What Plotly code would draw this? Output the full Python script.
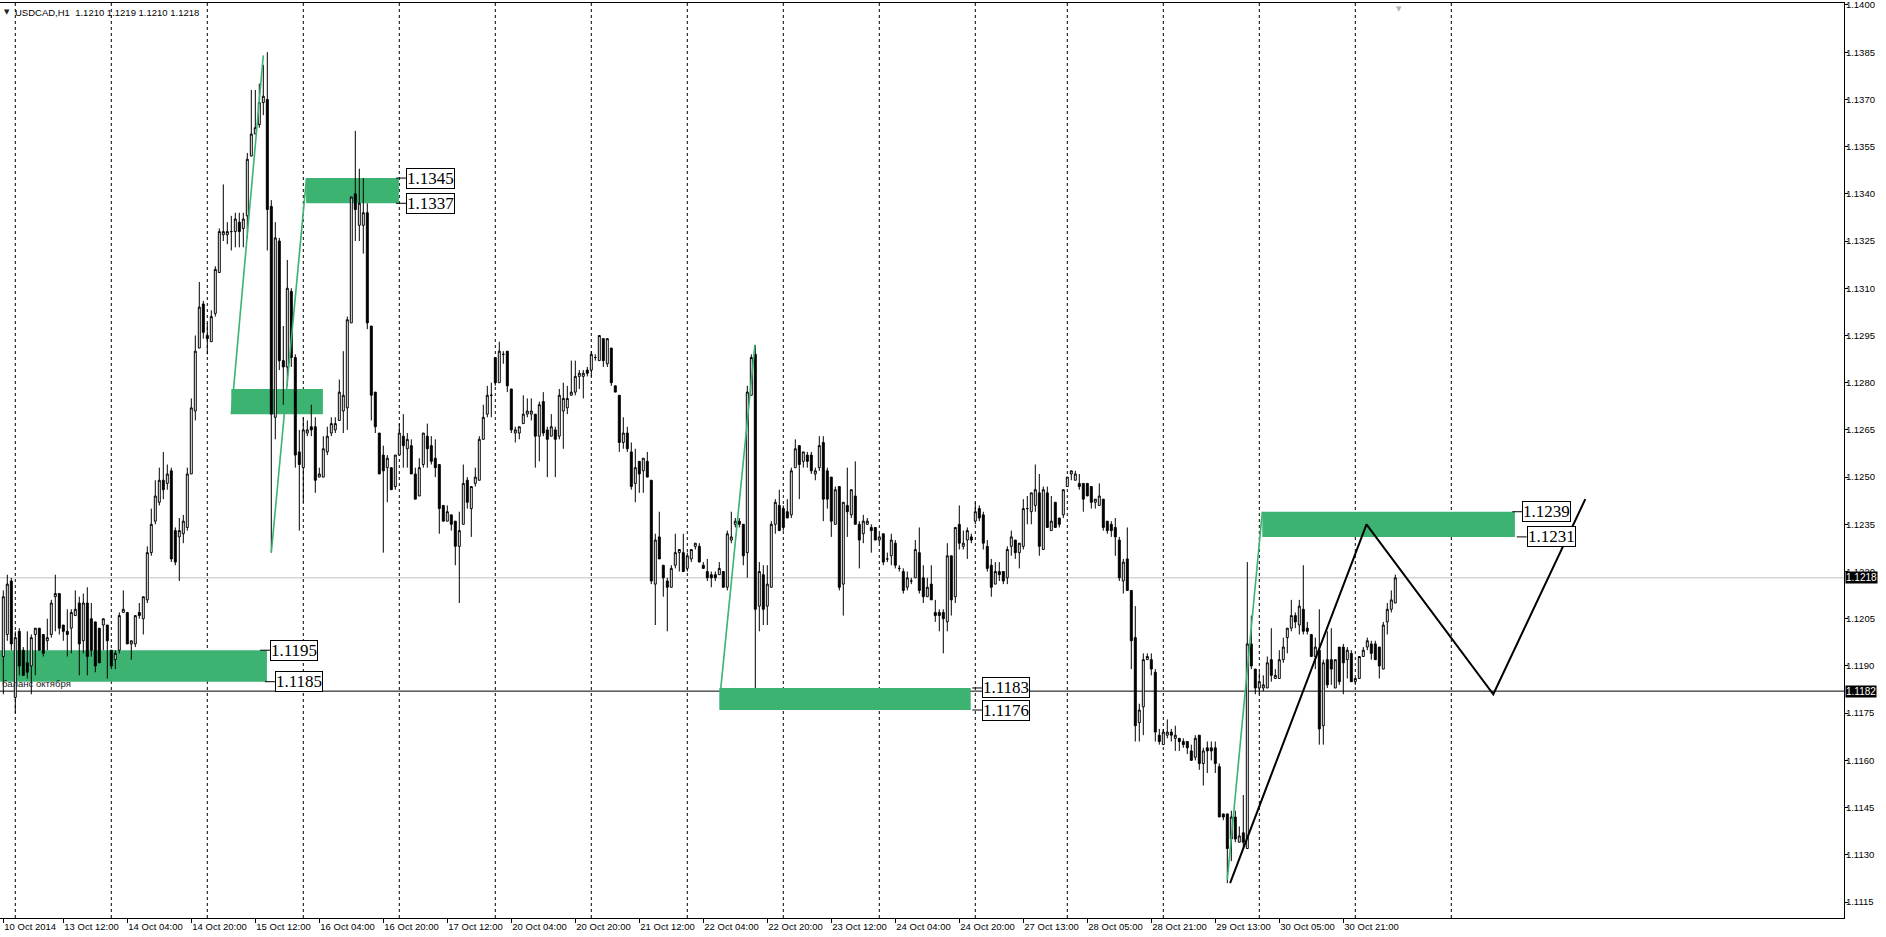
import plotly.graph_objects as go

# ---------------- OHLC data (H1 bars, index 0 = 10 Oct 21:00) ----------------
opens = [
 1.1193,1.1200,1.1217,1.1180,1.1201,1.1195,1.1191,1.1190,1.1200,1.1202,
 1.1200,1.1198,1.1200,1.1212,1.1213,1.1203,1.1201,1.1202,1.1206,1.1210,
 1.1198,1.1210,1.1205,1.1204,1.1202,1.1203,1.1203,1.1195,1.1192,1.1195,
 1.1207,1.1207,1.1197,1.1197,1.1207,1.1205,1.1211,1.1226,1.1236,1.1242,
 1.1249,1.1248,1.1252,1.1233,1.1231,1.1232,1.1234,1.1251,1.1271,1.1291,
 1.1305,1.1295,1.1293,1.1302,1.1315,1.1327,1.1327,1.1328,1.1328,1.1331,
 1.1329,1.1333,1.1352,1.1359,1.1362,1.1369,1.1370,1.1336,1.1269,1.1325,
 1.1287,1.1285,1.1309,1.1288,1.1258,1.1253,1.1264,1.1266,1.1266,1.1250,
 1.1250,1.1258,1.1264,1.1265,1.1268,1.1271,1.1272,1.1299,1.1340,1.1330,
 1.1330,1.1334,1.1298,1.1277,1.1264,1.1257,1.1253,1.1253,1.1247,1.1257,
 1.1263,1.1259,1.1260,1.1251,1.1244,1.1254,1.1263,1.1260,1.1256,1.1254,
 1.1241,1.1236,1.1238,1.1236,1.1228,1.1235,1.1249,1.1240,1.1248,1.1249,
 1.1262,1.1270,1.1276,1.1288,1.1280,1.1289,1.1290,1.1278,1.1264,1.1264,
 1.1267,1.1270,1.1270,1.1270,1.1263,1.1274,1.1265,1.1263,1.1265,1.1263,
 1.1271,1.1272,1.1276,1.1277,1.1282,1.1282,1.1284,1.1284,1.1288,1.1287,
 1.1294,1.1286,1.1291,1.1279,1.1276,1.1261,1.1264,1.1258,1.1248,1.1255,
 1.1252,1.1255,1.1249,1.1216,1.1231,1.1222,1.1217,1.1215,1.1222,1.1226,
 1.1226,1.1221,1.1224,1.1228,1.1228,1.1222,1.1220,1.1219,1.1219,1.1219,
 1.1220,1.1215,1.1230,1.1235,1.1236,1.1235,1.1226,1.1276,1.1289,1.1209,
 1.1219,1.1209,1.1215,1.1235,1.1241,1.1240,1.1239,1.1238,1.1253,1.1260,
 1.1255,1.1257,1.1257,1.1251,1.1253,1.1261,1.1252,1.1250,1.1235,1.1247,
 1.1216,1.1241,1.1238,1.1244,1.1235,1.1232,1.1235,1.1234,1.1234,1.1230,
 1.1232,1.1224,1.1225,1.1229,1.1221,1.1220,1.1215,1.1217,1.1218,1.1226,
 1.1218,1.1212,1.1216,1.1207,1.1207,1.1207,1.1204,1.1225,1.1212,1.1235,
 1.1228,1.1230,1.1231,1.1236,1.1240,1.1238,1.1228,1.1222,1.1216,1.1220,
 1.1220,1.1218,1.1228,1.1230,1.1226,1.1228,1.1240,1.1239,1.1241,1.1245,
 1.1227,1.1245,1.1233,1.1242,1.1237,1.1238,1.1247,1.1251,1.1249,1.1248,
 1.1248,1.1248,1.1247,1.1242,1.1241,1.1243,1.1236,1.1235,1.1234,1.1230,
 1.1217,1.1224,1.1214,1.1199,1.1172,1.1177,1.1192,1.1192,1.1188,1.1168,
 1.1165,1.1168,1.1169,1.1167,1.1167,1.1166,1.1166,1.1163,1.1161,1.1168,
 1.1159,1.1164,1.1164,1.1164,1.1158,1.1143,1.1143,1.1135,1.1142,1.1134,
 1.1137,1.1132,1.1197,1.1189,1.1183,1.1183,1.1183,1.1192,1.1186,1.1186,
 1.1192,1.1199,1.1202,1.1206,1.1203,1.1208,1.1202,1.1200,1.1193,1.1195,
 1.1171,1.1192,1.1192,1.1183,1.1196,1.1196,1.1192,1.1194,1.1185,1.1186,
 1.1193,1.1196,1.1197,1.1197,1.1196,1.1189,1.1204,1.1208,1.1210,
]
highs = [
 1.1214,1.1219,1.1218,1.1201,1.1202,1.1196,1.1201,1.1200,1.1202,1.1202,
 1.1200,1.1205,1.1211,1.1219,1.1213,1.1203,1.1208,1.1208,1.1214,1.1212,
 1.1213,1.1215,1.1210,1.1204,1.1202,1.1205,1.1203,1.1195,1.1195,1.1207,
 1.1214,1.1207,1.1198,1.1206,1.1210,1.1212,1.1228,1.1240,1.1249,1.1253,
 1.1258,1.1254,1.1253,1.1234,1.1237,1.1238,1.1253,1.1275,1.1295,1.1312,
 1.1306,1.1299,1.1303,1.1317,1.1329,1.1343,1.1331,1.1333,1.1334,1.1334,
 1.1334,1.1353,1.1373,1.1373,1.1375,1.1381,1.1385,1.1338,1.1331,1.1326,
 1.1298,1.1319,1.1310,1.1289,1.1265,1.1269,1.1268,1.1273,1.1269,1.1253,
 1.1263,1.1266,1.1269,1.1269,1.1281,1.1290,1.1301,1.1339,1.1360,1.1348,
 1.1345,1.1337,1.1298,1.1277,1.1264,1.1260,1.1257,1.1253,1.1257,1.1267,
 1.1270,1.1264,1.1262,1.1253,1.1256,1.1264,1.1267,1.1263,1.1262,1.1254,
 1.1241,1.1241,1.1238,1.1236,1.1239,1.1254,1.1250,1.1247,1.1253,1.1263,
 1.1273,1.1279,1.1280,1.1288,1.1293,1.1290,1.1290,1.1278,1.1266,1.1266,
 1.1276,1.1275,1.1275,1.1270,1.1274,1.1277,1.1266,1.1270,1.1266,1.1278,
 1.1280,1.1279,1.1287,1.1287,1.1284,1.1284,1.1285,1.1290,1.1289,1.1295,
 1.1294,1.1294,1.1291,1.1279,1.1276,1.1269,1.1266,1.1261,1.1259,1.1255,
 1.1256,1.1258,1.1249,1.1232,1.1239,1.1222,1.1218,1.1222,1.1232,1.1227,
 1.1232,1.1226,1.1227,1.1229,1.1229,1.1223,1.1224,1.1220,1.1220,1.1223,
 1.1220,1.1233,1.1239,1.1237,1.1237,1.1235,1.1279,1.1289,1.1292,1.1223,
 1.1222,1.1222,1.1236,1.1243,1.1246,1.1241,1.1243,1.1253,1.1262,1.1260,
 1.1258,1.1258,1.1258,1.1253,1.1263,1.1263,1.1253,1.1250,1.1247,1.1247,
 1.1242,1.1253,1.1246,1.1255,1.1236,1.1238,1.1237,1.1235,1.1234,1.1232,
 1.1232,1.1226,1.1232,1.1230,1.1222,1.1221,1.1220,1.1218,1.1230,1.1234,
 1.1222,1.1218,1.1222,1.1211,1.1208,1.1208,1.1229,1.1225,1.1234,1.1241,
 1.1233,1.1234,1.1232,1.1242,1.1241,1.1239,1.1230,1.1224,1.1223,1.1223,
 1.1220,1.1228,1.1233,1.1230,1.1229,1.1243,1.1244,1.1245,1.1254,1.1251,
 1.1247,1.1247,1.1244,1.1242,1.1237,1.1246,1.1250,1.1252,1.1252,1.1251,
 1.1248,1.1248,1.1247,1.1243,1.1248,1.1243,1.1236,1.1236,1.1237,1.1231,
 1.1224,1.1234,1.1214,1.1209,1.1178,1.1194,1.1194,1.1194,1.1189,1.1170,
 1.1170,1.1173,1.1170,1.1171,1.1167,1.1167,1.1166,1.1165,1.1168,1.1168,
 1.1164,1.1166,1.1166,1.1166,1.1159,1.1143,1.1143,1.1144,1.1144,1.1139,
 1.1149,1.1223,1.1206,1.1189,1.1188,1.1187,1.1193,1.1202,1.1189,1.1195,
 1.1199,1.1202,1.1211,1.1207,1.1211,1.1222,1.1204,1.1200,1.1199,1.1208,
 1.1192,1.1201,1.1202,1.1192,1.1196,1.1197,1.1196,1.1195,1.1186,1.1193,
 1.1196,1.1199,1.1198,1.1198,1.1196,1.1204,1.1210,1.1214,1.1219,
]
lows = [
 1.1181,1.1198,1.1195,1.1175,1.1187,1.1187,1.1186,1.1181,1.1187,1.1195,
 1.1193,1.1195,1.1199,1.1201,1.1200,1.1198,1.1193,1.1194,1.1206,1.1187,
 1.1194,1.1187,1.1193,1.1188,1.1191,1.1195,1.1186,1.1189,1.1189,1.1194,
 1.1207,1.1197,1.1192,1.1196,1.1205,1.1200,1.1210,1.1225,1.1235,1.1241,
 1.1243,1.1246,1.1223,1.1222,1.1217,1.1229,1.1233,1.1251,1.1268,1.1291,
 1.1294,1.1289,1.1293,1.1301,1.1315,1.1325,1.1324,1.1322,1.1323,1.1323,
 1.1323,1.1326,1.1352,1.1359,1.1361,1.1365,1.1322,1.1226,1.1262,1.1284,
 1.1273,1.1279,1.1285,1.1253,1.1233,1.1242,1.1263,1.1263,1.1245,1.1250,
 1.1250,1.1257,1.1263,1.1264,1.1268,1.1264,1.1265,1.1299,1.1325,1.1325,
 1.1321,1.1297,1.1268,1.1264,1.1251,1.1226,1.1242,1.1246,1.1246,1.1257,
 1.1253,1.1253,1.1251,1.1243,1.1244,1.1253,1.1253,1.1254,1.1250,1.1232,
 1.1236,1.1236,1.1233,1.1222,1.1210,1.1235,1.1240,1.1231,1.1247,1.1249,
 1.1262,1.1269,1.1269,1.1279,1.1280,1.1286,1.1277,1.1264,1.1261,1.1262,
 1.1267,1.1269,1.1268,1.1253,1.1255,1.1263,1.1250,1.1263,1.1250,1.1262,
 1.1259,1.1270,1.1276,1.1276,1.1278,1.1275,1.1282,1.1282,1.1287,1.1287,
 1.1285,1.1285,1.1279,1.1277,1.1258,1.1259,1.1258,1.1246,1.1242,1.1245,
 1.1245,1.1250,1.1216,1.1203,1.1224,1.1212,1.1201,1.1215,1.1221,1.1220,
 1.1220,1.1220,1.1223,1.1227,1.1223,1.1221,1.1217,1.1215,1.1217,1.1219,
 1.1215,1.1214,1.1229,1.1234,1.1234,1.1222,1.1218,1.1276,1.1183,1.1201,
 1.1203,1.1203,1.1215,1.1232,1.1233,1.1233,1.1237,1.1237,1.1253,1.1243,
 1.1253,1.1253,1.1251,1.1249,1.1252,1.1236,1.1240,1.1231,1.1235,1.1214,
 1.1206,1.1231,1.1237,1.1235,1.1221,1.1229,1.1235,1.1226,1.1230,1.1229,
 1.1222,1.1223,1.1222,1.1221,1.1220,1.1213,1.1214,1.1216,1.1218,1.1213,
 1.1210,1.1212,1.1211,1.1204,1.1201,1.1194,1.1201,1.1206,1.1210,1.1227,
 1.1227,1.1224,1.1229,1.1235,1.1236,1.1227,1.1220,1.1212,1.1216,1.1217,
 1.1216,1.1216,1.1225,1.1224,1.1221,1.1227,1.1235,1.1235,1.1239,1.1225,
 1.1227,1.1234,1.1233,1.1234,1.1234,1.1237,1.1247,1.1249,1.1249,1.1246,
 1.1239,1.1244,1.1240,1.1240,1.1241,1.1233,1.1232,1.1231,1.1225,1.1217,
 1.1213,1.1214,1.1189,1.1166,1.1166,1.1168,1.1192,1.1187,1.1166,1.1165,
 1.1165,1.1167,1.1166,1.1163,1.1163,1.1164,1.1162,1.1160,1.1160,1.1157,
 1.1152,1.1156,1.1160,1.1156,1.1142,1.1141,1.1121,1.1128,1.1134,1.1134,
 1.1132,1.1132,1.1189,1.1181,1.1181,1.1182,1.1183,1.1185,1.1186,1.1186,
 1.1191,1.1194,1.1201,1.1202,1.1200,1.1200,1.1200,1.1193,1.1189,1.1165,
 1.1165,1.1183,1.1184,1.1183,1.1184,1.1181,1.1186,1.1185,1.1184,1.1186,
 1.1193,1.1195,1.1192,1.1192,1.1186,1.1189,1.1200,1.1207,1.1210,
]
closes = [
 1.1212,1.1216,1.1197,1.1199,1.1190,1.1187,1.1188,1.1199,1.1202,1.1195,
 1.1194,1.1199,1.1210,1.1213,1.1202,1.1201,1.1200,1.1207,1.1208,1.1197,
 1.1210,1.1193,1.1195,1.1190,1.1191,1.1205,1.1198,1.1190,1.1194,1.1206,
 1.1208,1.1197,1.1198,1.1206,1.1206,1.1212,1.1226,1.1235,1.1244,1.1249,
 1.1246,1.1251,1.1224,1.1223,1.1233,1.1236,1.1251,1.1272,1.1290,1.1304,
 1.1296,1.1294,1.1301,1.1316,1.1328,1.1328,1.1328,1.1328,1.1332,1.1328,
 1.1332,1.1351,1.1359,1.1361,1.1369,1.1371,1.1335,1.1270,1.1326,1.1287,
 1.1285,1.1310,1.1288,1.1257,1.1254,1.1265,1.1265,1.1265,1.1249,1.1251,
 1.1259,1.1263,1.1267,1.1267,1.1277,1.1276,1.1300,1.1339,1.1335,1.1337,
 1.1334,1.1299,1.1276,1.1266,1.1251,1.1252,1.1256,1.1246,1.1257,1.1264,
 1.1260,1.1262,1.1251,1.1243,1.1253,1.1264,1.1259,1.1255,1.1253,1.1240,
 1.1236,1.1239,1.1235,1.1228,1.1233,1.1248,1.1242,1.1247,1.1250,1.1262,
 1.1269,1.1276,1.1276,1.1280,1.1290,1.1289,1.1279,1.1265,1.1265,1.1266,
 1.1270,1.1271,1.1271,1.1263,1.1273,1.1264,1.1262,1.1266,1.1262,1.1276,
 1.1275,1.1275,1.1277,1.1282,1.1283,1.1283,1.1283,1.1289,1.1288,1.1295,
 1.1287,1.1294,1.1280,1.1277,1.1261,1.1264,1.1259,1.1247,1.1253,1.1251,
 1.1256,1.1250,1.1217,1.1230,1.1224,1.1218,1.1215,1.1221,1.1226,1.1227,
 1.1220,1.1225,1.1227,1.1229,1.1223,1.1221,1.1218,1.1218,1.1218,1.1221,
 1.1215,1.1232,1.1231,1.1236,1.1235,1.1225,1.1277,1.1288,1.1208,1.1220,
 1.1208,1.1216,1.1235,1.1242,1.1233,1.1234,1.1237,1.1252,1.1259,1.1254,
 1.1258,1.1255,1.1252,1.1252,1.1260,1.1243,1.1243,1.1236,1.1246,1.1215,
 1.1242,1.1239,1.1246,1.1235,1.1230,1.1236,1.1236,1.1233,1.1230,1.1231,
 1.1223,1.1224,1.1230,1.1222,1.1221,1.1214,1.1218,1.1217,1.1227,1.1214,
 1.1212,1.1215,1.1211,1.1206,1.1206,1.1205,1.1225,1.1211,1.1234,1.1229,
 1.1229,1.1233,1.1230,1.1239,1.1237,1.1229,1.1221,1.1215,1.1220,1.1219,
 1.1217,1.1227,1.1231,1.1226,1.1229,1.1240,1.1240,1.1245,1.1246,1.1228,
 1.1246,1.1234,1.1236,1.1234,1.1235,1.1246,1.1250,1.1252,1.1251,1.1247,
 1.1243,1.1244,1.1242,1.1243,1.1244,1.1234,1.1233,1.1233,1.1231,1.1218,
 1.1223,1.1214,1.1198,1.1171,1.1176,1.1192,1.1193,1.1189,1.1169,1.1166,
 1.1169,1.1169,1.1168,1.1168,1.1166,1.1165,1.1164,1.1160,1.1167,1.1159,
 1.1163,1.1163,1.1163,1.1159,1.1142,1.1142,1.1132,1.1142,1.1135,1.1136,
 1.1134,1.1197,1.1190,1.1183,1.1185,1.1184,1.1191,1.1187,1.1187,1.1192,
 1.1196,1.1202,1.1206,1.1204,1.1209,1.1201,1.1201,1.1193,1.1196,1.1170,
 1.1191,1.1184,1.1189,1.1192,1.1185,1.1191,1.1195,1.1185,1.1186,1.1193,
 1.1195,1.1198,1.1194,1.1192,1.1190,1.1203,1.1208,1.1211,1.1218,
]

# ---------------- time axis ----------------
tick_bars = [0, 15, 31, 47, 63, 79, 95, 111, 127, 143, 159, 175, 191, 207, 223,
             239, 255, 271, 287, 303, 319, 335]
tick_labels = ["10 Oct 2014", "13 Oct 12:00", "14 Oct 04:00", "14 Oct 20:00",
               "15 Oct 12:00", "16 Oct 04:00", "16 Oct 20:00", "17 Oct 12:00",
               "20 Oct 04:00", "20 Oct 20:00", "21 Oct 12:00", "22 Oct 04:00",
               "22 Oct 20:00", "23 Oct 12:00", "24 Oct 04:00", "24 Oct 20:00",
               "27 Oct 13:00", "28 Oct 05:00", "28 Oct 21:00", "29 Oct 13:00",
               "30 Oct 05:00", "30 Oct 21:00"]
day_start_bars = [3, 27, 51, 75, 99, 123, 147, 171, 195, 219, 243, 266, 290, 314, 338, 362]

price_ticks = [1.1115, 1.1130, 1.1145, 1.1160, 1.1175, 1.1190, 1.1205, 1.1220,
               1.1235, 1.1250, 1.1265, 1.1280, 1.1295, 1.1310, 1.1325, 1.1340,
               1.1355, 1.1370, 1.1385, 1.1400]

# ---------------- drawn objects ----------------
zone_start = [-10.0, 57.0, 75.7, 179.0, 314.75]
zone_end = [65.9, 79.9, 98.9, 241.85, 377.9]
zone_top = [1.1195, 1.1278, 1.1345, 1.1183, 1.1239]
zone_bottom = [1.1185, 1.1270, 1.1337, 1.1176, 1.1231]
zone_label_top_bar = [66.7, None, 100.7, 244.75, 379.75]
zone_label_bottom_bar = [67.9, None, 100.7, 244.75, 380.85]

green_from_bar = [57.0, 67.0, 179.3, 306.0]
green_from_price = [1.1270, 1.1226, 1.1182, 1.1122]
green_to_bar = [65.0, 75.8, 187.9, 314.75]
green_to_price = [1.1384, 1.1345, 1.1292, 1.1239]

wave_bars = [306.7, 340.8, 372.5, 395.5]
wave_prices = [1.1121, 1.1235, 1.1181, 1.1243]

bid_price = 1.1218
level_price = 1.1182
level_text = "баланс октября"
title_text = "USDCAD,H1  1.1210 1.1219 1.1210 1.1218"

GREEN = "#3CB371"
FONT = "Liberation Sans"

n = len(closes)
bars = list(range(n))
highs = [max(h, o, c) for h, o, c in zip(highs, opens, closes)]
lows = [min(l, o, c) for l, o, c in zip(lows, opens, closes)]

fig = go.Figure()

fig.add_trace(go.Candlestick(
    x=bars, open=opens, high=highs, low=lows, close=closes,
    increasing=dict(line=dict(color="black", width=1), fillcolor="white"),
    decreasing=dict(line=dict(color="black", width=1), fillcolor="black"),
    whiskerwidth=0, showlegend=False, hoverinfo="skip",
))

for xa, ya, xb, yb in zip(green_from_bar, green_from_price, green_to_bar, green_to_price):
    fig.add_trace(go.Scatter(x=[xa, xb], y=[ya, yb], mode="lines",
                             line=dict(color=GREEN, width=1.6),
                             showlegend=False, hoverinfo="skip"))

fig.add_trace(go.Scatter(x=wave_bars, y=wave_prices, mode="lines",
                         line=dict(color="black", width=2),
                         showlegend=False, hoverinfo="skip"))

shapes = []
for x0, x1, yt, yb in zip(zone_start, zone_end, zone_top, zone_bottom):
    shapes.append(dict(type="rect", xref="x", yref="y", x0=x0, x1=x1, y0=yb, y1=yt,
                       fillcolor=GREEN, line=dict(width=0), layer="below"))
for b in day_start_bars:
    shapes.append(dict(type="line", xref="x", yref="paper", x0=b, x1=b, y0=0, y1=1,
                       line=dict(color="black", width=1, dash="3px,3px"), layer="below"))
shapes.append(dict(type="line", xref="paper", yref="y", x0=0, x1=1, y0=bid_price, y1=bid_price,
                   line=dict(color="#C0C0C0", width=1), layer="below"))
shapes.append(dict(type="line", xref="paper", yref="y", x0=0, x1=1, y0=level_price, y1=level_price,
                   line=dict(color="black", width=1), layer="below"))

annotations = []
for lt, lb, yt, yb in zip(zone_label_top_bar, zone_label_bottom_bar, zone_top, zone_bottom):
    if lt is None:
        continue
    for lx, py in ((lt, yt), (lb, yb)):
        shapes.append(dict(type="line", xref="x", yref="y", x0=lx - 2.5, x1=lx, y0=py, y1=py,
                           line=dict(color="black", width=1), layer="above"))
        annotations.append(dict(x=lx, y=py, xref="x", yref="y", xanchor="left", yanchor="middle",
                                text=f"{py:.4f}", showarrow=False,
                                font=dict(family="Liberation Serif", size=17, color="black"),
                                bgcolor="white", bordercolor="black", borderwidth=1, borderpad=0))

# current price / level labels on the price scale
for py in (bid_price, level_price):
    annotations.append(dict(x=1, y=py, xref="paper", yref="y", xanchor="left", yanchor="middle",
                            xshift=1, text=f"{py:.4f}", showarrow=False,
                            font=dict(family=FONT, size=10, color="white"),
                            bgcolor="black", borderpad=0))

annotations.append(dict(x=0, y=level_price, xref="paper", yref="y", xanchor="left",
                        yanchor="bottom", yshift=0, text=level_text, showarrow=False,
                        font=dict(family=FONT, size=9.5, color="#222222")))
annotations.append(dict(x=0, y=1, xref="paper", yref="paper", xanchor="left", yanchor="top",
                        xshift=2, yshift=-3, text="▼", showarrow=False,
                        font=dict(family="DejaVu Sans", size=7, color="#222222")))
annotations.append(dict(x=0, y=1, xref="paper", yref="paper", xanchor="left", yanchor="top",
                        xshift=13, yshift=-2, text=title_text, showarrow=False,
                        font=dict(family=FONT, size=9.5, color="black")))
annotations.append(dict(x=n, y=1, xref="x", yref="paper", xanchor="center", yanchor="top",
                        text="▼", showarrow=False,
                        font=dict(family="DejaVu Sans", size=7, color="#B0B0B0")))

fig.update_layout(
    width=1886, height=937,
    margin=dict(l=0, r=42, t=3, b=19, autoexpand=False),
    paper_bgcolor="white", plot_bgcolor="white",
    shapes=shapes, annotations=annotations,
    showlegend=False,
    font=dict(family=FONT, size=9.5, color="black"),
    xaxis=dict(range=[-0.825, 460.175], tickmode="array", tickvals=tick_bars, ticktext=tick_labels,
               ticklabelposition="outside right", tickangle=0, automargin=False,
               ticklabeloverflow="allow",
               ticks="outside", ticklen=4, tickcolor="black",
               showgrid=False, zeroline=False, showline=True, mirror=True, linecolor="black",
               linewidth=1, rangeslider=dict(visible=False),
               tickfont=dict(family=FONT, size=9.5, color="black")),
    yaxis=dict(range=[1.110992, 1.140063], side="right", tickmode="array", tickvals=price_ticks,
               tickformat=".4f", ticks="outside", ticklen=3, tickcolor="black", automargin=False,
               ticklabelstandoff=-4, ticklabeloverflow="allow",
               showgrid=False, zeroline=False, showline=True, mirror=True, linecolor="black",
               linewidth=1, tickfont=dict(family=FONT, size=9.5, color="black")),
)

fig.write_html(
    "out.html",
    config={"displayModeBar": False},
    post_script="document.body.style.margin='0';document.body.style.padding='0';"
                "document.body.style.overflow='hidden';"
                "document.documentElement.style.overflow='hidden';",
)
